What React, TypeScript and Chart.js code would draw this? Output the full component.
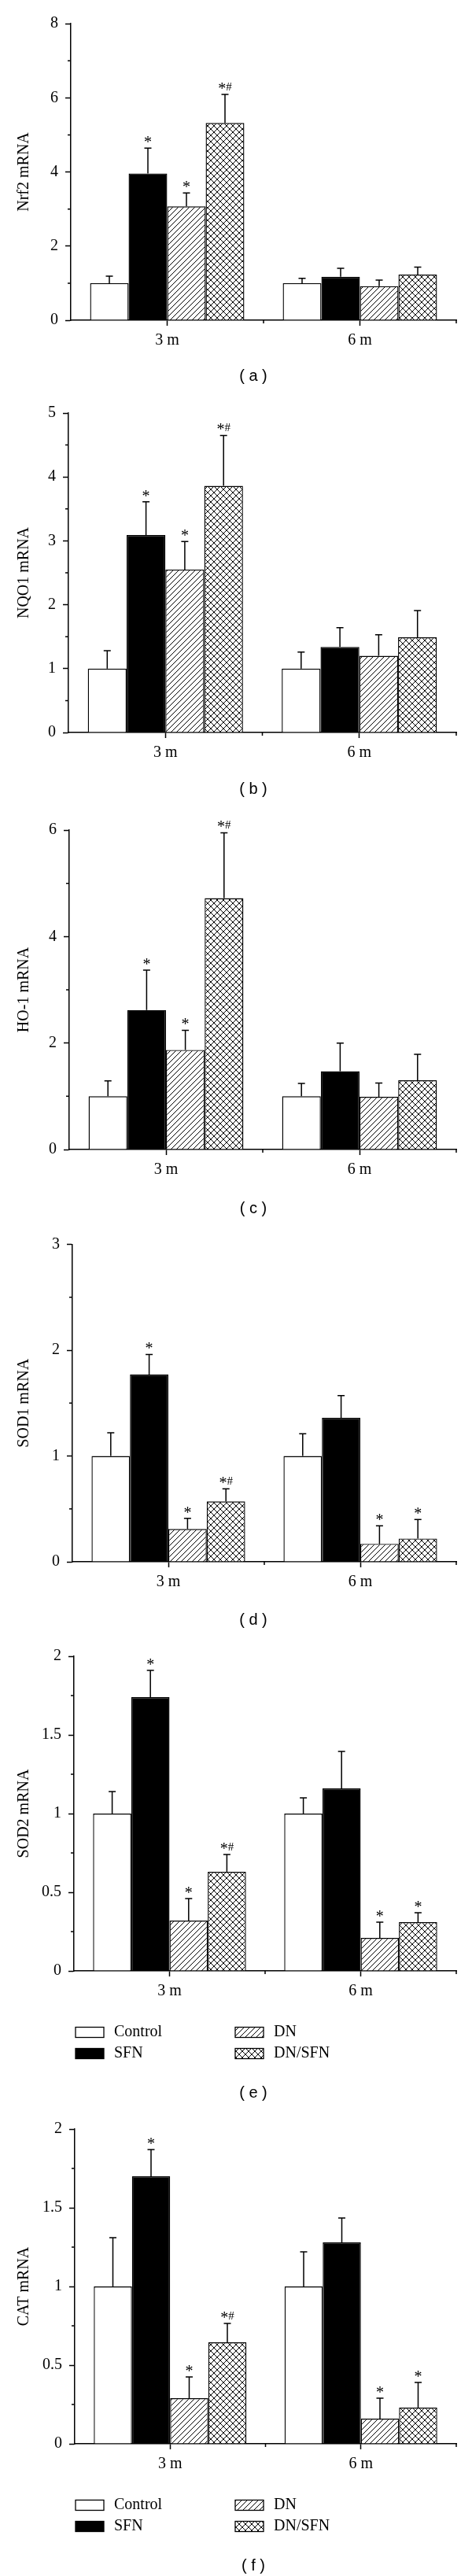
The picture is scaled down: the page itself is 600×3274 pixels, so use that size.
import React, { useEffect, useLayoutEffect, useRef } from "react";
import { Chart, registerables } from "chart.js";

Chart.register(...registerables);

// ---------- data ----------
const groups = ["3 m", "6 m"];
const seriesNames = ["Control", "SFN", "DN", "DN/SFN"];

// (a) Nrf2 — rows: Control, SFN, DN, DN/SFN ; columns: 3 m, 6 m
const nrf2Mean = [[1.0, 1.0], [3.96, 1.17], [3.07, 0.92], [5.32, 1.23]];
const nrf2Err = [[0.19, 0.13], [0.68, 0.23], [0.36, 0.16], [0.77, 0.2]];
const nrf2Marks = [["", ""], ["*", ""], ["*", ""], ["*#", ""]];

// (b) NQO1
const nqo1Mean = [[1.0, 1.0], [3.09, 1.34], [2.55, 1.2], [3.86, 1.49]];
const nqo1Err = [[0.28, 0.26], [0.52, 0.3], [0.44, 0.33], [0.79, 0.42]];
const nqo1Marks = [["", ""], ["*", ""], ["*", ""], ["*#", ""]];

// (c) HO-1
const ho1Mean = [[1.0, 1.0], [2.62, 1.47], [1.87, 0.99], [4.72, 1.3]];
const ho1Err = [[0.29, 0.24], [0.75, 0.53], [0.37, 0.26], [1.23, 0.49]];
const ho1Marks = [["", ""], ["*", ""], ["*", ""], ["*#", ""]];

// (d) SOD1
const sod1Mean = [[1.0, 1.0], [1.77, 1.36], [0.31, 0.17], [0.57, 0.22]];
const sod1Err = [[0.22, 0.21], [0.19, 0.21], [0.1, 0.17], [0.12, 0.18]];
const sod1Marks = [["", ""], ["*", ""], ["*", "*"], ["*#", "*"]];

// (e) SOD2
const sod2Mean = [[1.0, 1.0], [1.74, 1.16], [0.32, 0.21], [0.63, 0.31]];
const sod2Err = [[0.14, 0.1], [0.17, 0.235], [0.14, 0.1], [0.11, 0.06]];
const sod2Marks = [["", ""], ["*", ""], ["*", "*"], ["*#", "*"]];

// (f) CAT
const catMean = [[1.0, 1.0], [1.7, 1.28], [0.29, 0.16], [0.645, 0.23]];
const catErr = [[0.31, 0.22], [0.17, 0.155], [0.135, 0.13], [0.12, 0.16]];
const catMarks = [["", ""], ["*", ""], ["*", "*"], ["*#", "*"]];

// ---------- styling / layout ----------
const SERIF = "'Liberation Serif', 'Times New Roman', serif";
const SANS = "'Liberation Sans', Arial, sans-serif";

type PanelCfg = {
  label: string;
  yTitle: string;
  mean: number[][];
  err: number[][];
  marks: string[][];
  yMax: number;
  major: number;
  minor: number;
  h: number;
  top: number;
  zero: number;
  axisX: number;
  captionY: number;
  legend: boolean;
};

const panels: PanelCfg[] = [
  { label: "a", yTitle: "Nrf2 mRNA", mean: nrf2Mean, err: nrf2Err, marks: nrf2Marks, yMax: 8, major: 2, minor: 1, h: 490, top: 30, zero: 407, axisX: 90, captionY: 478, legend: false },
  { label: "b", yTitle: "NQO1 mRNA", mean: nqo1Mean, err: nqo1Err, marks: nqo1Marks, yMax: 5, major: 1, minor: 0.5, h: 530, top: 35, zero: 441, axisX: 87, captionY: 513, legend: false },
  { label: "c", yTitle: "HO-1 mRNA", mean: ho1Mean, err: ho1Err, marks: ho1Marks, yMax: 6, major: 2, minor: 1, h: 530, top: 35, zero: 441, axisX: 88, captionY: 516, legend: false },
  { label: "d", yTitle: "SOD1 mRNA", mean: sod1Mean, err: sod1Err, marks: sod1Marks, yMax: 3, major: 1, minor: 0.5, h: 525, top: 31.5, zero: 435, axisX: 92, captionY: 509, legend: false },
  { label: "e", yTitle: "SOD2 mRNA", mean: sod2Mean, err: sod2Err, marks: sod2Marks, yMax: 2, major: 0.5, minor: 0.25, h: 605, top: 30, zero: 430, axisX: 94, captionY: 585, legend: true },
  { label: "f", yTitle: "CAT mRNA", mean: catMean, err: catErr, marks: catMarks, yMax: 2, major: 0.5, minor: 0.25, h: 594, top: 26, zero: 426, axisX: 95, captionY: 581, legend: true },
];

function makeHatch(p: number, cross: boolean): CanvasPattern | string {
  const c = document.createElement("canvas");
  c.width = p;
  c.height = p;
  const g = c.getContext("2d");
  if (!g) return "#ffffff";
  g.fillStyle = "#ffffff";
  g.fillRect(0, 0, p, p);
  g.strokeStyle = "#000000";
  g.lineWidth = 1;
  g.beginPath();
  g.moveTo(0, p);
  g.lineTo(p, 0);
  g.moveTo(-1, 1);
  g.lineTo(1, -1);
  g.moveTo(p - 1, p + 1);
  g.lineTo(p + 1, p - 1);
  if (cross) {
    g.moveTo(0, 0);
    g.lineTo(p, p);
    g.moveTo(-1, p - 1);
    g.lineTo(1, p + 1);
    g.moveTo(p - 1, -1);
    g.lineTo(p + 1, 1);
  }
  g.stroke();
  return g.createPattern(c, "repeat") || "#ffffff";
}

function drawMark(ctx: CanvasRenderingContext2D, m: string, x: number, y: number) {
  ctx.textBaseline = "alphabetic";
  ctx.textAlign = "left";
  if (m === "*#") {
    ctx.font = `20px ${SERIF}`;
    const ws = ctx.measureText("*").width;
    ctx.font = `15px ${SERIF}`;
    const wh = ctx.measureText("#").width;
    const x0 = x - (ws + wh) / 2;
    ctx.font = `20px ${SERIF}`;
    ctx.fillText("*", x0, y);
    ctx.font = `15px ${SERIF}`;
    ctx.fillText("#", x0 + ws, y - 4);
  } else {
    ctx.font = `20px ${SERIF}`;
    ctx.textAlign = "center";
    ctx.fillText(m, x, y);
  }
}

function Panel({ cfg }: { cfg: PanelCfg }) {
  const ref = useRef<HTMLCanvasElement>(null);

  useEffect(() => {
    const canvas = ref.current;
    if (!canvas) return;
    const fills: (string | CanvasPattern)[] = ["#ffffff", "#000000", makeHatch(7, false), makeHatch(8, true)];

    const overlay = {
      id: "overlay",
      afterDatasetsDraw(chart: any) {
        const ctx: CanvasRenderingContext2D = chart.ctx;
        const ys = chart.scales.y;
        ctx.save();
        ctx.strokeStyle = "#000";
        ctx.fillStyle = "#000";
        ctx.lineWidth = 1.5;
        chart.data.datasets.forEach((_ds: any, i: number) => {
          const meta = chart.getDatasetMeta(i);
          meta.data.forEach((bar: any, j: number) => {
            const v = cfg.mean[i][j];
            const e = cfg.err[i][j];
            const x = bar.x;
            const yb = ys.getPixelForValue(v);
            const yt = ys.getPixelForValue(v + e);
            ctx.beginPath();
            ctx.moveTo(x, yb);
            ctx.lineTo(x, yt);
            ctx.moveTo(x - 4.5, yt);
            ctx.lineTo(x + 4.5, yt);
            ctx.stroke();
            const m = cfg.marks[i][j];
            if (m) drawMark(ctx, m, x, yt - 1);
          });
        });
        ctx.restore();
      },
      afterDraw(chart: any) {
        const ctx: CanvasRenderingContext2D = chart.ctx;
        const ys = chart.scales.y;
        const xs = chart.scales.x;
        const area = chart.chartArea;
        ctx.save();
        ctx.strokeStyle = "#000";
        ctx.lineWidth = 1.5;
        ctx.beginPath();
        // minor y ticks
        for (let v = cfg.minor; v < cfg.yMax; v += 2 * cfg.minor) {
          const y = ys.getPixelForValue(v);
          ctx.moveTo(area.left - 4, y);
          ctx.lineTo(area.left, y);
        }
        // boundary x ticks
        const xm = (xs.getPixelForValue(0) + xs.getPixelForValue(1)) / 2;
        ctx.moveTo(xm, area.bottom);
        ctx.lineTo(xm, area.bottom + 4);
        ctx.moveTo(area.right, area.bottom);
        ctx.lineTo(area.right, area.bottom + 4);
        ctx.stroke();

        // legend
        if (cfg.legend) {
          ctx.lineWidth = 1.3;
          chart.data.datasets.forEach((ds: any, i: number) => {
            const col = i < 2 ? 0 : 1;
            const row = i % 2;
            const bx = col ? 299 : 96;
            const cy = cfg.zero + (row ? 105 : 78);
            ctx.fillStyle = ds.backgroundColor;
            ctx.fillRect(bx, cy - 6.5, 36, 13);
            ctx.strokeRect(bx, cy - 6.5, 36, 13);
            ctx.fillStyle = "#000";
            ctx.font = `20px ${SERIF}`;
            ctx.textAlign = "left";
            ctx.textBaseline = "middle";
            ctx.fillText(ds.label, bx + 49, cy);
          });
        }

        // caption
        ctx.fillStyle = "#000";
        ctx.font = `20px ${SANS}`;
        ctx.textAlign = "center";
        ctx.textBaseline = "middle";
        ctx.fillText(`( ${cfg.label} )`, 322, cfg.captionY);
        ctx.restore();
      },
    };

    const chart = new Chart(canvas, {
      type: "bar",
      data: {
        labels: groups,
        datasets: seriesNames.map((n, i) => ({
          label: n,
          data: cfg.mean[i],
          backgroundColor: fills[i] as any,
          borderColor: "#000000",
          borderWidth: 1.4,
          barPercentage: 1,
          categoryPercentage: 0.8,
        })),
      },
      options: {
        responsive: false,
        animation: false,
        devicePixelRatio: 1,
        layout: {
          padding: { top: cfg.top, right: 20, bottom: cfg.h - cfg.zero - 40, left: 0 },
        },
        plugins: {
          legend: { display: false },
          tooltip: { enabled: false },
        },
        scales: {
          x: {
            offset: true,
            grid: {
              offset: false,
              drawOnChartArea: false,
              tickLength: 7,
              tickColor: "#000",
              tickWidth: 1.5,
            },
            border: { color: "#000", width: 1.5 },
            ticks: { color: "#000", padding: 7, font: { family: SERIF, size: 20 } },
            afterFit: (s: any) => {
              s.height = 40;
            },
          },
          y: {
            min: 0,
            max: cfg.yMax,
            ticks: {
              stepSize: cfg.major,
              color: "#000",
              padding: 9,
              font: { family: SERIF, size: 20 },
              callback: (v: any) => String(Number(v)),
            },
            grid: {
              drawOnChartArea: false,
              tickLength: 7,
              tickColor: "#000",
              tickWidth: 1.5,
            },
            border: { color: "#000", width: 1.5 },
            title: {
              display: true,
              text: cfg.yTitle,
              color: "#000",
              font: { family: SERIF, size: 20 },
              padding: { top: 19, bottom: 0 },
            },
            afterFit: (s: any) => {
              s.width = cfg.axisX;
            },
          },
        },
      } as any,
      plugins: [overlay],
    });
    return () => chart.destroy();
  }, [cfg]);

  return (
    <canvas
      ref={ref}
      width={600}
      height={cfg.h}
      style={{ display: "block", width: 600, height: cfg.h }}
    />
  );
}

export default function App() {
  useLayoutEffect(() => {
    document.body.style.margin = "0";
    document.body.style.background = "#ffffff";
  }, []);
  return (
    <div style={{ width: 600, background: "#fff" }}>
      {panels.map((p) => (
        <Panel key={p.label} cfg={p} />
      ))}
    </div>
  );
}
